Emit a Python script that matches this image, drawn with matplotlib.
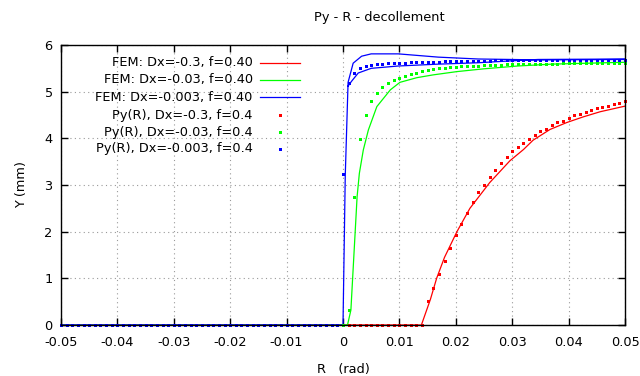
import numpy as np
import matplotlib
matplotlib.use('Agg')
import matplotlib.pyplot as plt

plt.rcParams['font.family'] = 'DejaVu Sans'
plt.rcParams['font.size'] = 9.3

# FEM curves
fem_red_r = [-0.05, 0.0139, 0.0155, 0.0166, 0.018, 0.0202, 0.0225, 0.026, 0.0296, 0.032,
             0.0337, 0.0367, 0.0397, 0.0426, 0.0456, 0.05]
fem_red_y = [0, 0, 0.55, 1.0, 1.45, 2.0, 2.5, 3.05, 3.52, 3.76, 3.96, 4.19, 4.34, 4.46, 4.57, 4.69]

fem_green_r = [-0.05, 0.0008, 0.0014, 0.0025, 0.0029, 0.0036, 0.0045, 0.006, 0.0084, 0.0101,
               0.0131, 0.016, 0.0202, 0.025, 0.031, 0.037, 0.05]
fem_green_y = [0, 0, 0.32, 2.75, 3.25, 3.75, 4.18, 4.68, 5.04, 5.20, 5.30, 5.36, 5.43, 5.49,
               5.55, 5.59, 5.63]

# blue FEM goes out along the upper branch and comes back along the lower one
fem_blue_r = [-0.05, 0.0, 0.0004, 0.0009, 0.0018, 0.0033, 0.005, 0.0098, 0.0169, 0.024, 0.0298,
              0.0346, 0.05, 0.05, 0.0346, 0.0298, 0.024, 0.0169, 0.0098, 0.005, 0.0027, 0.0015,
              0.0009]
fem_blue_y = [0, 0, 3.2, 5.2, 5.61, 5.76, 5.81, 5.81, 5.74, 5.70, 5.69, 5.68, 5.69, 5.70, 5.69,
              5.66, 5.62, 5.59, 5.55, 5.50, 5.40, 5.22, 5.12]

# Py(R) points, sampled every 0.001 rad
r_neg = np.round(np.arange(-0.05, 0.0, 0.001), 3)
r_pos = np.round(np.arange(0.0, 0.0505, 0.001), 3)
y_neg = np.zeros(len(r_neg))

py_red = [0, 0, 0, 0, 0, 0, 0, 0, 0, 0, 0, 0, 0, 0, 0,
          0.51, 0.79, 1.09, 1.37, 1.65, 1.93, 2.17, 2.41, 2.64, 2.84,
          3.01, 3.18, 3.33, 3.48, 3.60, 3.72, 3.81, 3.91, 3.99, 4.08,
          4.15, 4.21, 4.28, 4.34, 4.38, 4.43, 4.49, 4.53, 4.56, 4.60,
          4.64, 4.67, 4.70, 4.73, 4.76, 4.79]
py_green = [0, 0.33, 2.75, 3.98, 4.51, 4.81, 4.98, 5.11, 5.18, 5.25,
            5.30, 5.34, 5.38, 5.41, 5.44, 5.46, 5.48, 5.50, 5.51, 5.52,
            5.53, 5.54, 5.55, 5.555, 5.56, 5.565, 5.57, 5.575, 5.58, 5.585,
            5.59, 5.592, 5.594, 5.596, 5.598, 5.60, 5.601, 5.602, 5.603, 5.604,
            5.605, 5.606, 5.607, 5.607, 5.608, 5.608, 5.609, 5.609, 5.61, 5.61, 5.61]
py_blue = [3.23, 5.18, 5.41, 5.50, 5.55, 5.57, 5.59, 5.60, 5.61, 5.615,
           5.62, 5.625, 5.63, 5.633, 5.636, 5.64, 5.643, 5.646, 5.649, 5.652,
           5.655, 5.657, 5.659, 5.661, 5.663, 5.665, 5.667, 5.668, 5.669, 5.67,
           5.671, 5.672, 5.673, 5.674, 5.675, 5.676, 5.677, 5.677, 5.678, 5.678,
           5.679, 5.679, 5.68, 5.68, 5.68, 5.681, 5.681, 5.682, 5.682, 5.682, 5.683]

labels = ['FEM: Dx=-0.3, f=0.40', 'FEM: Dx=-0.03, f=0.40', 'FEM: Dx=-0.003, f=0.40',
          'Py(R), Dx=-0.3, f=0.4', 'Py(R), Dx=-0.03, f=0.4', 'Py(R), Dx=-0.003, f=0.4']
colors = ['#ff0000', '#00ff00', '#0000ff']
ms = 2.16

fig = plt.figure(figsize=(6.4, 3.76), dpi=100)
ax = fig.add_axes([61 / 640, 51 / 376, 564 / 640, 280 / 376])

ax.plot(fem_red_r, fem_red_y, color=colors[0], lw=0.9)
ax.plot(fem_green_r, fem_green_y, color=colors[1], lw=0.9)
ax.plot(fem_blue_r, fem_blue_y, color=colors[2], lw=0.9)

for c, py in zip(colors, [py_red, py_green, py_blue]):
    r_all = np.concatenate([r_neg, r_pos])
    y_all = np.concatenate([y_neg, py])
    ax.plot(r_all, y_all, ls='none', marker='s', ms=ms, mew=0, color=c, clip_on=False)

ax.set_xlim(-0.05, 0.05)
ax.set_ylim(0, 6)
ax.set_xticks(np.round(np.arange(-0.05, 0.051, 0.01), 2))
ax.set_xticklabels(['-0.05', '-0.04', '-0.03', '-0.02', '-0.01', '0',
                    '0.01', '0.02', '0.03', '0.04', '0.05'])
ax.set_yticks(range(0, 7))
ax.tick_params(direction='in', length=5, width=1, top=True, right=True,
               labelsize=9.3, colors='black')
ax.tick_params(axis='x', pad=8)
ax.tick_params(axis='y', pad=6)
ax.grid(True, ls=(0, (1, 3)), color='#999999', lw=0.8)
for s in ax.spines.values():
    s.set_linewidth(1)

ax.set_xlabel('R   (rad)', labelpad=10)
ax.set_ylabel('Y (mm)', labelpad=12)
fig.text(379 / 640, 1 - 18 / 376, 'Py - R - decollement', ha='center', va='center')

# gnuplot-style key: right-aligned text, sample to the right
rows = [0.936, 0.875, 0.814, 0.75, 0.689, 0.629]
for i, lab in enumerate(labels):
    ax.text(0.340, rows[i], lab, transform=ax.transAxes, ha='right', va='center')
    c = colors[i % 3]
    if i < 3:
        ax.plot([0.353, 0.424], [rows[i], rows[i]], transform=ax.transAxes, color=c, lw=0.9)
    else:
        ax.plot([0.389], [rows[i]], transform=ax.transAxes, ls='none', marker='s',
                ms=ms, mew=0, color=c)

fig.savefig('out.png', dpi=100)
